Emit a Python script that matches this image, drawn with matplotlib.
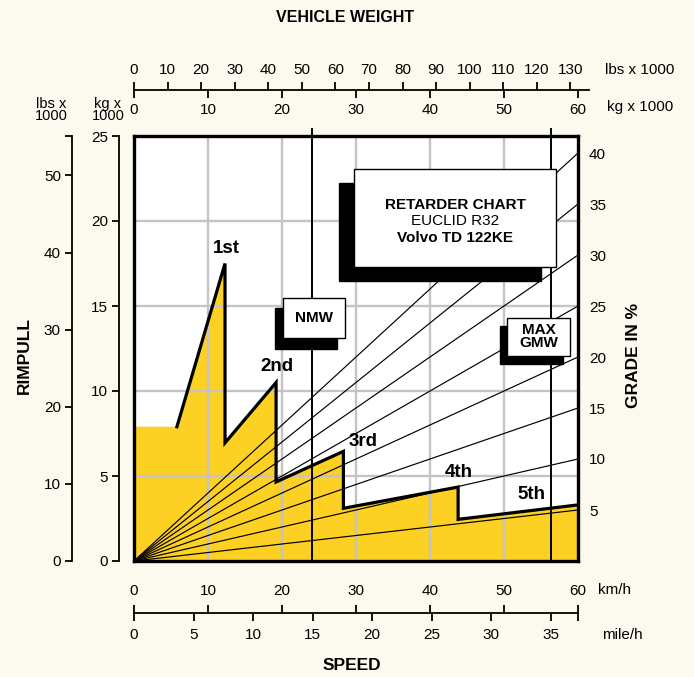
import matplotlib
matplotlib.use("Agg")
import matplotlib.pyplot as plt
from matplotlib.patches import Rectangle

W_PX, H_PX = 694, 677

# values (speed km/h, weight / rimpull in 1000 kg)
GEAR_SPEED = [5.8, 12.3, 12.3, 19.2, 19.2, 28.3, 28.3, 43.8, 43.8, 60.0]
GEAR_PULL = [7.9, 17.5, 6.95, 10.5, 4.65, 6.45, 3.1, 4.35, 2.45, 3.3]
START_PULL = 7.9
GEAR_NAMES = ["1st", "2nd", "3rd", "4th", "5th"]
GRADES = [5, 10, 15, 20, 25, 30, 35, 40]
NMW_T = 24.0
GMW_T = 56.4
KMH_TICKS = [0, 10, 20, 30, 40, 50, 60]
MPH_TICKS = [0, 5, 10, 15, 20, 25, 30, 35]
KG_TICKS = [0, 10, 20, 30, 40, 50, 60]
LBS_TICKS = [0, 10, 20, 30, 40, 50, 60, 70, 80, 90, 100, 110, 120, 130]
PULL_KG_TICKS = [0, 5, 10, 15, 20, 25]
PULL_LBS_TICKS = [0, 10, 20, 30, 40, 50]

KG_TO_LBS = 2.20462
KMH_PER_MPH = 1.609344
X_MAX = 60.0
Y_MAX = 25.0

BG = "#FCFAEF"
YELLOW = "#FDD024"
GRID = "#C4C3CA"
FONT = "Liberation Sans"

plt.rcParams["font.family"] = [FONT, "DejaVu Sans"]
plt.rcParams["font.size"] = 10.5

# plot box in pixels
PL, PR, PT, PB = 134, 578, 136, 561


def fx(x):
    return x / W_PX


def fy(y):
    return 1 - y / H_PX


def bare_axes(ax):
    ax.set_facecolor("none")
    for s in ax.spines.values():
        s.set_visible(False)


fig = plt.figure(figsize=(W_PX / 100, H_PX / 100), dpi=100, facecolor=BG)
ax = fig.add_axes([fx(PL), fy(PB), (PR - PL) / W_PX, (PB - PT) / H_PX])
ax.set_xlim(0, X_MAX)
ax.set_ylim(0, Y_MAX)
ax.set_facecolor("white")
for s in ax.spines.values():
    s.set_linewidth(2.4)
    s.set_zorder(10)

# grid
ax.set_xticks(KMH_TICKS[1:-1])
ax.set_yticks(PULL_KG_TICKS[1:-1])
ax.tick_params(length=0, labelleft=False, labelbottom=False)
ax.set_axisbelow(False)
ax.grid(True, color=GRID, linewidth=1.7)

# yellow retarding area
fill_x = [0, 0] + GEAR_SPEED + [X_MAX]
fill_y = [0, START_PULL] + GEAR_PULL + [0]
ax.fill(fill_x, fill_y, color=YELLOW, lw=0, zorder=1)

# grade lines from origin
for g in GRADES:
    ax.plot([0, X_MAX], [0, X_MAX * g / 100], color="black", lw=0.85, zorder=3)

ax.plot(GEAR_SPEED, GEAR_PULL, color="black", lw=2.3, zorder=4,
        solid_joinstyle="miter")

# weight lines
for w in (NMW_T, GMW_T):
    ax.plot([w, w], [0, Y_MAX + 0.4], color="black", lw=1.4, zorder=5,
            clip_on=False)

# gear labels
gear_label_pos = [(12.5, 18.4), (19.3, 11.45), (31.0, 7.0), (43.9, 5.2), (53.7, 3.9)]
for name, (gx, gy) in zip(GEAR_NAMES, gear_label_pos):
    ax.text(gx, gy, name, ha="center", va="center", fontsize=13.5,
            fontweight="bold", zorder=8)


def shadow_box(x0, y0, x1, y1, dx, dy):
    ax.add_patch(Rectangle((x0 + dx, y0 + dy), x1 - x0, y1 - y0,
                           facecolor="black", edgecolor="black", zorder=6))
    ax.add_patch(Rectangle((x0, y0), x1 - x0, y1 - y0, facecolor="white",
                           edgecolor="black", lw=1.0, zorder=7))


shadow_box(20.1, 13.1, 28.5, 15.5, -1.05, -0.6)
ax.text(24.3, 14.3, "NMW", ha="center", va="center", fontsize=11,
        fontweight="bold", zorder=8)

shadow_box(29.7, 17.3, 57.0, 23.06, -2.0, -0.8)
ax.text(43.4, 20.95, "RETARDER CHART", ha="center", va="center",
        fontsize=11, fontweight="bold", zorder=8)
ax.text(43.4, 20.0, "EUCLID R32", ha="center", va="center", fontsize=11,
        zorder=8)
ax.text(43.4, 19.0, "Volvo TD 122KE", ha="center", va="center",
        fontsize=11, fontweight="bold", zorder=8)

shadow_box(50.4, 12.06, 58.9, 14.3, -0.9, -0.5)
ax.text(54.65, 13.18, "MAX\nGMW", ha="center", va="center", fontsize=11,
        fontweight="bold", linespacing=0.9, zorder=8)

# grade scale on the right
gax = ax.secondary_yaxis("right", functions=(lambda t: t / (X_MAX / 100),
                                             lambda g: g * X_MAX / 100))
gax.set_yticks(GRADES)
gax.tick_params(length=0, pad=8, labelsize=11)
gax.spines["right"].set_visible(False)

# vehicle weight scale (top)
unit = (PR - PL) / X_MAX
top_end = 61.5
wax = fig.add_axes([fx(PL), fy(90), top_end * unit / W_PX, 1e-5])
bare_axes(wax)
wax.spines["bottom"].set_visible(True)
wax.spines["bottom"].set_linewidth(1.3)
wax.set_xlim(0, top_end)
wax.set_yticks([])
wax.set_xticks(KG_TICKS)
wax.tick_params(axis="x", direction="out", length=6, width=1.3, pad=3,
                labelsize=11)
lax = wax.secondary_xaxis("top", functions=(lambda k: k * KG_TO_LBS,
                                            lambda l: l / KG_TO_LBS))
lax.set_xticks(LBS_TICKS)
lax.tick_params(axis="x", direction="out", length=6, width=1.3, pad=3,
                labelsize=11)
lax.spines["top"].set_visible(False)

# speed scale (bottom)
sax = fig.add_axes([fx(PL), fy(613), (PR - PL) / W_PX, 1e-5])
bare_axes(sax)
sax.spines["bottom"].set_visible(True)
sax.spines["bottom"].set_linewidth(1.3)
sax.set_xlim(0, X_MAX)
sax.set_yticks([])
sax.xaxis.tick_top()
sax.set_xticks(KMH_TICKS)
sax.tick_params(axis="x", direction="out", length=6, width=1.3, pad=5,
                labelsize=11)
max_ = sax.secondary_xaxis("bottom", functions=(lambda k: k / KMH_PER_MPH,
                                                lambda m: m * KMH_PER_MPH))
max_.set_xticks(MPH_TICKS)
max_.set_xticks([X_MAX / KMH_PER_MPH], minor=True)
max_.tick_params(axis="x", which="both", direction="out", length=6,
                 width=1.3, pad=5, labelsize=11)
max_.spines["bottom"].set_visible(False)

# rimpull scales (left)
for x_px, top, ticks in ((72, Y_MAX * KG_TO_LBS, PULL_LBS_TICKS),
                         (119, Y_MAX, PULL_KG_TICKS)):
    rax = fig.add_axes([fx(x_px), fy(PB), 1e-5, (PB - PT) / H_PX])
    bare_axes(rax)
    rax.spines["left"].set_visible(True)
    rax.spines["left"].set_linewidth(1.3)
    rax.set_ylim(0, top)
    rax.set_xticks([])
    rax.set_yticks(ticks)
    rax.set_yticks([top], minor=True)
    rax.tick_params(axis="y", which="both", direction="out", length=5,
                    width=1.3, pad=3, labelsize=11)

# titles and unit texts
fig.text(fx(345), fy(17), "VEHICLE WEIGHT", ha="center", va="center",
         fontsize=11.5, fontweight="bold")
fig.text(fx(605), fy(70), "lbs x 1000", ha="left", va="center", fontsize=11)
fig.text(fx(607), fy(107), "kg x 1000", ha="left", va="center", fontsize=11)
fig.text(fx(51), fy(110), "lbs x\n1000", ha="center", va="center",
         fontsize=10.5, linespacing=0.9)
fig.text(fx(108), fy(110), "kg x\n1000", ha="center", va="center",
         fontsize=10.5, linespacing=0.9)
fig.text(fx(24), fy(355), "RIMPULL", ha="center", va="center", rotation=90,
         fontsize=12.5, fontweight="bold")
fig.text(fx(634), fy(355), "GRADE IN %", ha="center", va="center",
         rotation=90, fontsize=12.5, fontweight="bold")
fig.text(fx(598), fy(590), "km/h", ha="left", va="center", fontsize=11)
fig.text(fx(602), fy(635), "mile/h", ha="left", va="center", fontsize=11)
fig.text(fx(352), fy(665), "SPEED", ha="center", va="center", fontsize=12.5,
         fontweight="bold")

fig.savefig("out.png", dpi=100, facecolor=BG)
